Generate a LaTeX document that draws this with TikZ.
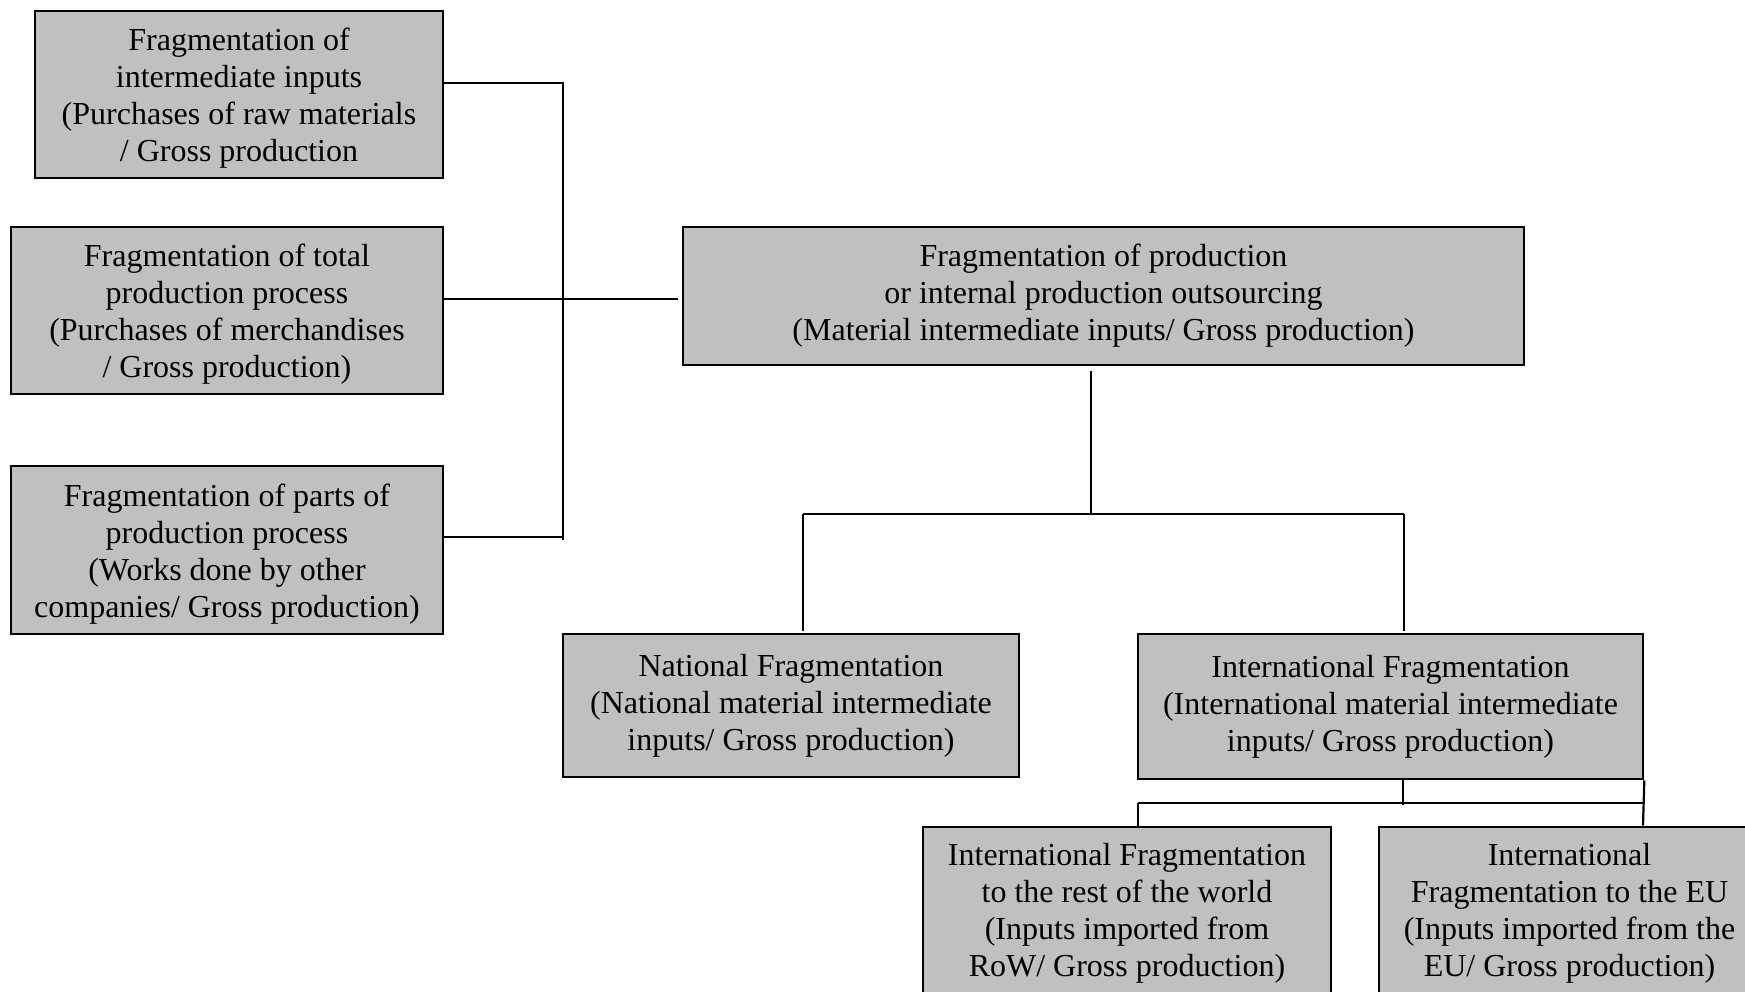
\documentclass[tikz,border=0pt]{standalone}
\usepackage{fontspec}
\setmainfont{Liberation Serif}
\definecolor{boxgray}{RGB}{192,192,192}
% extra room above the first line, sets the text a little lower in its box
\newcommand\firstline{\rule{0pt}{15pt}}
\begin{document}
\begin{tikzpicture}[x=0.5pt,y=-0.5pt,
  box/.style={draw=black, line width=1.3pt, fill=boxgray, align=center,
    inner sep=0pt, font=\fontsize{16}{18.5}\selectfont},
  link/.style={draw=black, line width=1.1pt}]
\useasboundingbox (0,0) rectangle (1745,991);
\clip (0,0) rectangle (1745,991);

% indicators on the left
\node[box, minimum width=204pt, minimum height=83.5pt] (A) at (239,94.5)
  {\firstline Fragmentation of\\intermediate inputs\\(Purchases of raw materials\\/ Gross production};
\node[box, minimum width=216pt, minimum height=83.5pt] (B) at (227,310.5)
  {\firstline Fragmentation of total\\production process\\(Purchases of merchandises\\/ Gross production)};
\node[box, minimum width=216pt, minimum height=84pt] (C) at (227,550)
  {\firstline Fragmentation of parts of\\production process\\(Works done by other\\companies/ Gross production)};

% main indicator
\node[box, minimum width=420.5pt, minimum height=69pt] (M) at (1103.5,296)
  {Fragmentation of production\\or internal production outsourcing\\(Material intermediate inputs/ Gross production)};

% national / international split
\node[box, minimum width=228pt, minimum height=71.5pt] (N) at (791,705.5)
  {National Fragmentation\\(National material intermediate\\inputs/ Gross production)};
\node[box, minimum width=252.5pt, minimum height=72.5pt] (I) at (1390.5,706.5)
  {International Fragmentation\\(International material intermediate\\inputs/ Gross production)};

% destinations of international fragmentation
\node[box, minimum width=204pt, minimum height=86.5pt] (R) at (1127,913.5)
  {International Fragmentation\\to the rest of the world\\(Inputs imported from\\RoW/ Gross production)};
\node[box, minimum width=190.5pt, minimum height=86.5pt] (E) at (1569.5,913.5)
  {International\\Fragmentation to the EU\\(Inputs imported from the\\EU/ Gross production)};

% left bracket
\coordinate (ta) at (563,83);
\coordinate (tc) at (563,540);
\coordinate (tb) at (678,299);
\draw[link] (A.east |- ta) -- (ta) -- (tc);
\draw[link] (C.east |- 0,537) -- (563,537);
\draw[link] (B.east |- tb) -- (tb);

% tree below the main indicator
\coordinate (ms) at (1091,371);
\coordinate (mj) at (1091,514);
\coordinate (nl) at (803,514);
\coordinate (ir) at (1404,514);
\coordinate (ne) at (803,631);
\coordinate (ie) at (1404,631);
\draw[link] (ms) -- (mj);
\draw[link] (nl) -- (ir);
\draw[link] (nl) -- (ne);
\draw[link] (ir) -- (ie);

% tree below the international indicator
\coordinate (is) at (1403,805);
\coordinate (rl) at (1138,803);
\coordinate (er) at (1643,803);
\draw[link] (I.south -| is) -- (is);
\draw[link] (rl) -- (er);
\draw[link] (rl) -- (R.north -| rl);
\draw[link] (I.south east) -- (E.north -| er);
\end{tikzpicture}
\end{document}
